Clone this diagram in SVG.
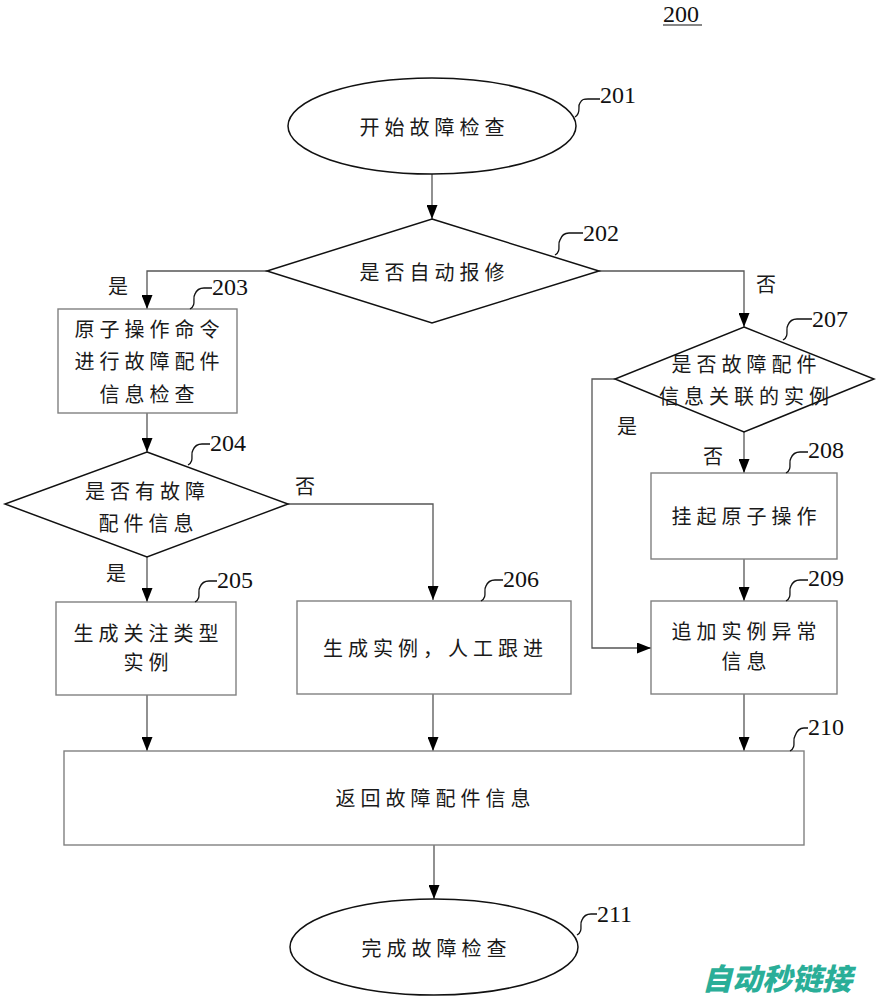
<svg xmlns="http://www.w3.org/2000/svg" width="879" height="1000" viewBox="0 0 879 1000">
<style>
.bg{fill:#fff}
.shape{fill:#fff;stroke:#111;stroke-width:1.5}
.box{fill:#fff;stroke:#808080;stroke-width:1.4}
.conn{fill:none;stroke:#555;stroke-width:1.3}
.lead{fill:none;stroke:#111;stroke-width:1.3}
.t{font-family:"Noto Sans CJK SC","Noto Sans CJK JP",sans-serif;font-size:20px;fill:#1a1a1a;letter-spacing:5px;text-anchor:middle;dominant-baseline:central}
.yn{font-family:"Noto Sans CJK SC","Noto Sans CJK JP",sans-serif;font-size:20px;fill:#1a1a1a;text-anchor:middle;dominant-baseline:central}
.num{font-family:"Liberation Serif","Times New Roman",serif;font-size:24px;fill:#111}
.wm{font-family:"Noto Sans CJK SC",sans-serif;font-size:30px;font-weight:900;font-style:italic;fill:#2aae98;text-anchor:middle;dominant-baseline:central}
</style>
<defs>
<marker id="ah" viewBox="0 0 14 11" refX="14" refY="5.5" markerWidth="14" markerHeight="11" markerUnits="userSpaceOnUse" orient="auto">
<path d="M0,0 L14,5.5 L0,11 Z" fill="#000"/>
</marker>
</defs>
<rect class="bg" x="0" y="0" width="879" height="1000"/>

<g id="title">
<text class="num" x="663" y="22">200</text>
<line x1="663" y1="25" x2="702" y2="25" stroke="#111" stroke-width="1.2"/>
</g>

<g id="connectors">
<path class="conn" d="M432,174 V219" marker-end="url(#ah)"/>
<path class="conn" d="M267,271 H147 V309" marker-end="url(#ah)"/>
<path class="conn" d="M599,271 H744 V327" marker-end="url(#ah)"/>
<path class="conn" d="M147,413 V452" marker-end="url(#ah)"/>
<path class="conn" d="M147,557 V602" marker-end="url(#ah)"/>
<path class="conn" d="M288,504 H433 V600" marker-end="url(#ah)"/>
<path class="conn" d="M744,432 V473" marker-end="url(#ah)"/>
<path class="conn" d="M615,379 H592 V648 H651" marker-end="url(#ah)"/>
<path class="conn" d="M744,559 V601" marker-end="url(#ah)"/>
<path class="conn" d="M147,695 V751" marker-end="url(#ah)"/>
<path class="conn" d="M433,694 V751" marker-end="url(#ah)"/>
<path class="conn" d="M744,694 V751" marker-end="url(#ah)"/>
<path class="conn" d="M434,845 V899" marker-end="url(#ah)"/>
<text class="yn" x="118" y="285">是</text>
<text class="yn" x="766" y="283">否</text>
<text class="yn" x="305" y="485">否</text>
<text class="yn" x="116" y="572">是</text>
<text class="yn" x="627" y="425">是</text>
<text class="yn" x="713" y="455">否</text>
</g>

<g id="n201">
<ellipse class="shape" cx="432" cy="126" rx="144" ry="48"/>
<text class="t" x="434.5" y="126">开始故障检查</text>
<path class="lead" d="M575,117 C582,113 577,106 580,103 C582,99 584,99 588,99 L600,99"/>
<text class="num" x="600" y="103">201</text>
</g>

<g id="n202">
<polygon class="shape" points="432,219 599,271 432,323 267,271"/>
<text class="t" x="434.5" y="271">是否自动报修</text>
<path class="lead" d="M555,255 C562,251 557,244 560,240 C562,234 565,233 569,233 L583,233"/>
<text class="num" x="583" y="241">202</text>
</g>

<g id="n203">
<rect class="box" x="58" y="309" width="179" height="104"/>
<text class="t" x="149.5" y="328">原子操作命令</text>
<text class="t" x="149.5" y="360">进行故障配件</text>
<text class="t" x="149.5" y="393">信息检查</text>
<path class="lead" d="M190,309 C197,305 192,298 195,294 C197,289 200,288 204,288 L212,288"/>
<text class="num" x="212" y="295">203</text>
</g>

<g id="n204">
<polygon class="shape" points="147,452 288,504 147,557 5,504"/>
<text class="t" x="147.5" y="490">是否有故障</text>
<text class="t" x="148.5" y="522">配件信息</text>
<path class="lead" d="M188,465 C195,461 190,454 193,450 C195,445 198,444 202,444 L210,444"/>
<text class="num" x="210" y="451">204</text>
</g>

<g id="n205">
<rect class="box" x="56" y="602" width="180" height="93"/>
<text class="t" x="148.5" y="632">生成关注类型</text>
<text class="t" x="148.5" y="661">实例</text>
<path class="lead" d="M195,602 C202,598 197,591 200,587 C202,582 205,581 209,581 L217,581"/>
<text class="num" x="217" y="588">205</text>
</g>

<g id="n206">
<rect class="box" x="297" y="601" width="274" height="93"/>
<text class="t" x="435.5" y="647">生成实例，人工跟进</text>
<path class="lead" d="M481,601 C488,597 483,590 486,586 C488,581 491,580 495,580 L503,580"/>
<text class="num" x="503" y="587">206</text>
</g>

<g id="n207">
<polygon class="shape" points="744,327 874,379 744,432 615,379"/>
<text class="t" x="746.5" y="363">是否故障配件</text>
<text class="t" x="746.5" y="395">信息关联的实例</text>
<path class="lead" d="M783,340 C790,336 785,329 788,325 C790,320 793,319 797,319 L812,319"/>
<text class="num" x="812" y="327">207</text>
</g>

<g id="n208">
<rect class="box" x="651" y="473" width="186" height="86"/>
<text class="t" x="746.5" y="515">挂起原子操作</text>
<path class="lead" d="M786,473 C793,469 788,462 791,458 C793,453 796,452 800,452 L808,452"/>
<text class="num" x="808" y="458">208</text>
</g>

<g id="n209">
<rect class="box" x="651" y="601" width="186" height="93"/>
<text class="t" x="746.5" y="630">追加实例异常</text>
<text class="t" x="746.5" y="660">信息</text>
<path class="lead" d="M786,601 C793,597 788,590 791,586 C793,581 796,580 800,580 L808,580"/>
<text class="num" x="808" y="586">209</text>
</g>

<g id="n210">
<rect class="box" x="64" y="751" width="740" height="94"/>
<text class="t" x="435.5" y="797">返回故障配件信息</text>
<path class="lead" d="M790,751 C797,747 792,740 795,736 C797,730 800,728 804,728 L808,728"/>
<text class="num" x="808" y="735">210</text>
</g>

<g id="n211">
<ellipse class="shape" cx="434" cy="947" rx="144" ry="48"/>
<text class="t" x="436.5" y="947">完成故障检查</text>
<path class="lead" d="M577,935 C584,931 579,924 582,920 C584,915 587,914 591,914 L597,914"/>
<text class="num" x="597" y="922">211</text>
</g>

<g id="watermark">
<text class="wm" x="777" y="977">自动秒链接</text>
</g>
</svg>
